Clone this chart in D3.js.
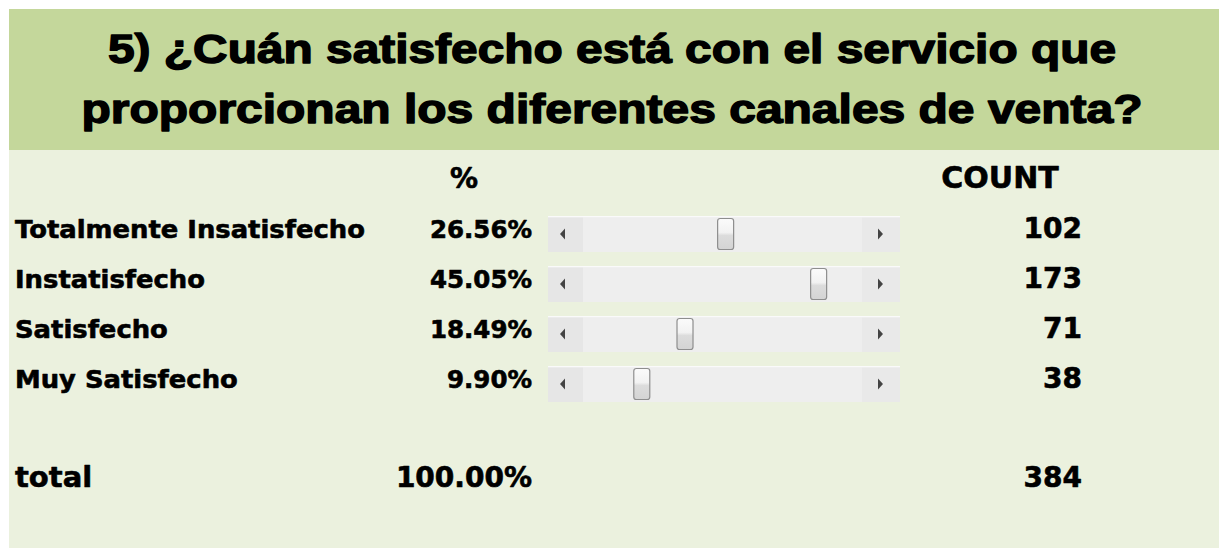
<!DOCTYPE html>
<html><head><meta charset="utf-8">
<script src="https://cdn.jsdelivr.net/npm/d3@7"></script>
<style>
html,body{margin:0;padding:0;background:#fff;}
svg{display:block;}
</style></head>
<body>
<svg id="chart" width="1223" height="548"></svg>
<script>
const titleLines = ["5) ¿Cuán satisfecho está con el servicio que", "proporcionan los diferentes canales de venta?"];
const categories = ["Totalmente Insatisfecho", "Instatisfecho", "Satisfecho", "Muy Satisfecho"];
const percents = [26.56, 45.05, 18.49, 9.90];
const counts = [102, 173, 71, 38];
const totalLabel = "total";
const totalPercent = 100.00;
const totalCount = 384;
const scrollMax = 200;

const svg = d3.select("#chart");
const defs = svg.append("defs");
const g1 = defs.append("linearGradient").attr("id","thumbGrad").attr("x1",0).attr("y1",0).attr("x2",0).attr("y2",1);
g1.append("stop").attr("offset","0%").attr("stop-color","#fbfbfb");
g1.append("stop").attr("offset","45%").attr("stop-color","#f2f2f2");
g1.append("stop").attr("offset","55%").attr("stop-color","#dcdcdc");
g1.append("stop").attr("offset","100%").attr("stop-color","#d4d4d4");

// backgrounds
svg.append("rect").attr("x",9).attr("y",9).attr("width",1210).attr("height",141).attr("fill","#c4d79b");
svg.append("rect").attr("x",9).attr("y",150).attr("width",1210).attr("height",398).attr("fill","#ebf1de");

// title
const titleFont = "'Liberation Sans', Arial, sans-serif";
const titleWidths = [1008, 1061];
titleLines.forEach((t,i)=>{
  svg.append("text").attr("x",612).attr("y",63 + i*60)
    .attr("text-anchor","middle").attr("font-family",titleFont)
    .attr("font-weight","bold").attr("font-size",40).attr("fill","#000")
    .attr("stroke","#000").attr("stroke-width",1.4).attr("stroke-linejoin","round")
    .attr("textLength",titleWidths[i]).attr("lengthAdjust","spacingAndGlyphs")
    .text(t);
});

const bodyFont = "'DejaVu Sans', sans-serif";
const heavy = sel => sel.attr("font-family",bodyFont).attr("font-weight","bold")
  .attr("stroke","#000").attr("stroke-width",0.6).attr("stroke-linejoin","round");

// headers
heavy(svg.append("text").attr("x",464).attr("y",188).attr("text-anchor","middle")
  .attr("font-size",28)).text("%");
heavy(svg.append("text").attr("x",1000).attr("y",188).attr("text-anchor","middle")
  .attr("font-size",30)).text("COUNT");

const y = d3.scalePoint().domain(categories).range([238, 388]);
const fmtPct = v => d3.format(".2f")(v) + "%";

const sbLeft = 548, sbRight = 900, btnW = 35, thumbW = 16;
const x = d3.scaleLinear().domain([0, scrollMax]).range([sbLeft + btnW + 1, sbRight - 38 - thumbW]);

const rows = svg.selectAll("g.row").data(categories).join("g").attr("class","row")
  .attr("transform", d => `translate(0,${y(d)})`);

heavy(rows.append("text").attr("x",0).attr("y",0)
  .attr("transform","translate(15,0) scale(1.055,1)")
  .attr("font-size",24.5))
  .text(d=>d);
heavy(rows.append("text").attr("x",532).attr("y",0).attr("text-anchor","end")
  .attr("font-size",24.5))
  .text((d,i)=>fmtPct(percents[i]));
heavy(rows.append("text").attr("x",1082).attr("y",0).attr("text-anchor","end")
  .attr("font-size",28))
  .text((d,i)=>counts[i]);

// scrollbars
const sb = rows.append("g").attr("transform","translate(0,-22)");
sb.append("rect").attr("x",sbLeft).attr("y",0).attr("width",sbRight-sbLeft).attr("height",36).attr("fill","#ececec");
sb.append("rect").attr("x",sbLeft).attr("y",0).attr("width",sbRight-sbLeft).attr("height",1.5).attr("fill","#fafafa");
sb.append("rect").attr("x",sbLeft).attr("y",1.5).attr("width",btnW).attr("height",34.5).attr("fill","#e6e6e6");
sb.append("rect").attr("x",sbRight-38).attr("y",1.5).attr("width",38).attr("height",34.5).attr("fill","#e9e9e9");
sb.append("rect").attr("x",sbLeft+btnW).attr("y",1.5).attr("width",sbRight-sbLeft-btnW-38).attr("height",34.5).attr("fill","#eeeeee");
sb.append("path").attr("d",`M${sbLeft+12},18 L${sbLeft+17},12.5 L${sbLeft+17},23.5 Z`).attr("fill","#444");
sb.append("path").attr("d",`M${sbRight-17},18 L${sbRight-22},12.5 L${sbRight-22},23.5 Z`).attr("fill","#444");
sb.append("rect").attr("x",(d,i)=>x(counts[i])).attr("y",2.5).attr("width",thumbW).attr("height",31)
  .attr("rx",2.5).attr("fill","url(#thumbGrad)").attr("stroke","#8e8e8e").attr("stroke-width",1.2);

// total row
const yTot = 487;
heavy(svg.append("text").attr("x",15).attr("y",yTot).attr("font-size",29)).text(totalLabel);
heavy(svg.append("text").attr("x",532).attr("y",yTot).attr("text-anchor","end")
  .attr("font-size",28)).text(fmtPct(totalPercent));
heavy(svg.append("text").attr("x",1082).attr("y",yTot).attr("text-anchor","end")
  .attr("font-size",28)).text(totalCount);
</script>
</body></html>
